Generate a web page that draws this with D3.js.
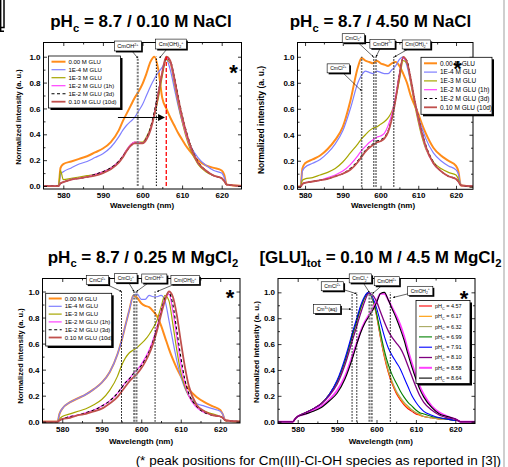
<!DOCTYPE html>
<html>
<head>
<meta charset="utf-8">
<script src="https://cdn.jsdelivr.net/npm/d3@7/dist/d3.min.js"></script>
<style>
  html, body { margin: 0; padding: 0; background: #fff; }
  svg { display: block; font-family: "Liberation Sans", Arial, sans-serif; }
</style>
</head>
<body>
<svg id="fig" width="508" height="467"></svg>
<script>
// shared wavelength grid (nm) for every spectrum
const WL = [574, 578.8, 579.3, 580, 582, 584, 586, 588, 590, 592, 594, 595, 596, 597, 598, 599, 600, 601, 602, 603, 604, 605, 606, 607, 608, 609, 610, 611, 612, 614, 616, 618, 620, 620.6, 621.3, 626];

// pHc 8.7 / 0.10 M NaCl
const NA010_G0   = [0,0,0.14,0.17,0.19,0.21,0.23,0.26,0.29,0.34,0.43,0.5,0.56,0.62,0.68,0.73,0.79,0.87,0.96,1.0,0.9,0.68,0.6,0.53,0.47,0.41,0.36,0.31,0.27,0.2,0.16,0.14,0.12,0.09,0.01,0];
const NA010_G4   = [0,0,0.09,0.11,0.14,0.17,0.19,0.22,0.25,0.3,0.38,0.43,0.47,0.5,0.53,0.58,0.63,0.7,0.77,0.83,0.88,0.92,0.98,0.9,0.76,0.62,0.5,0.4,0.32,0.22,0.16,0.12,0.1,0.07,0.01,0];
const NA010_G3   = [0,0,0.12,0.05,0.06,0.07,0.08,0.09,0.11,0.14,0.19,0.23,0.28,0.32,0.34,0.34,0.34,0.38,0.45,0.55,0.68,0.85,0.98,0.95,0.8,0.64,0.5,0.38,0.29,0.17,0.11,0.08,0.06,0.04,0.01,0];
const NA010_G2H  = [0,0,0.02,0.03,0.05,0.06,0.07,0.09,0.11,0.14,0.19,0.23,0.28,0.32,0.34,0.34,0.33,0.37,0.44,0.56,0.72,0.88,0.99,0.96,0.82,0.66,0.52,0.4,0.31,0.18,0.12,0.08,0.06,0.04,0.01,0];
const NA010_G2D  = [0,0,0.02,0.03,0.05,0.06,0.07,0.09,0.11,0.14,0.19,0.23,0.27,0.31,0.33,0.33,0.33,0.37,0.45,0.58,0.73,0.88,0.99,0.97,0.85,0.7,0.55,0.43,0.33,0.19,0.12,0.08,0.06,0.04,0.01,0];
const NA010_G1   = [0,0,0.02,0.03,0.05,0.06,0.07,0.08,0.1,0.13,0.18,0.22,0.27,0.31,0.33,0.33,0.33,0.36,0.43,0.55,0.71,0.88,1.0,0.97,0.84,0.68,0.54,0.42,0.32,0.18,0.12,0.08,0.06,0.04,0.01,0];

// pHc 8.7 / 4.50 M NaCl
const NA450_G0   = [0,0,0.14,0.18,0.21,0.24,0.29,0.36,0.46,0.66,0.92,0.99,0.97,0.96,0.95,0.97,0.95,0.94,0.93,0.95,0.96,0.93,0.87,0.8,0.7,0.63,0.56,0.48,0.41,0.3,0.24,0.2,0.16,0.12,0.01,0];
const NA450_G4   = [0,0,0.12,0.15,0.18,0.21,0.26,0.33,0.43,0.6,0.8,0.86,0.89,0.88,0.87,0.89,0.88,0.87,0.87,0.9,0.93,0.98,1.0,0.93,0.8,0.66,0.54,0.45,0.37,0.26,0.2,0.16,0.13,0.1,0.01,0];
const NA450_G3   = [0,0,0.05,0.06,0.07,0.09,0.11,0.14,0.19,0.26,0.33,0.37,0.4,0.43,0.45,0.46,0.48,0.5,0.53,0.58,0.68,0.82,0.97,0.95,0.8,0.64,0.5,0.38,0.29,0.19,0.14,0.11,0.09,0.06,0.01,0];
const NA450_G2H  = [0,0,0.02,0.03,0.04,0.05,0.07,0.09,0.12,0.17,0.24,0.28,0.31,0.34,0.36,0.38,0.39,0.41,0.47,0.56,0.7,0.87,0.99,0.96,0.82,0.66,0.52,0.4,0.3,0.18,0.12,0.08,0.06,0.04,0.01,0];
const NA450_G2D  = [0,0,0.02,0.03,0.04,0.05,0.06,0.08,0.1,0.14,0.2,0.24,0.28,0.31,0.33,0.35,0.36,0.38,0.43,0.53,0.68,0.86,0.99,0.97,0.84,0.68,0.54,0.42,0.32,0.19,0.12,0.08,0.06,0.04,0.01,0];
const NA450_G1   = [0,0,0.02,0.03,0.04,0.05,0.06,0.08,0.1,0.13,0.19,0.23,0.27,0.3,0.32,0.34,0.35,0.37,0.42,0.52,0.67,0.85,1.0,0.96,0.83,0.67,0.53,0.41,0.31,0.18,0.12,0.08,0.06,0.04,0.01,0];

// pHc 8.7 / 0.25 M MgCl2
const MG025_G0   = [0,0,0.06,0.1,0.15,0.18,0.21,0.25,0.3,0.38,0.52,0.62,0.74,0.86,0.97,0.95,0.91,0.89,0.88,0.85,0.81,0.74,0.65,0.56,0.48,0.41,0.35,0.29,0.25,0.19,0.15,0.12,0.09,0.06,0.01,0];
const MG025_G4   = [0,0,0.06,0.1,0.15,0.18,0.21,0.25,0.3,0.38,0.52,0.62,0.74,0.86,0.97,0.98,0.94,0.94,0.97,0.96,0.96,0.97,0.93,0.78,0.62,0.47,0.35,0.26,0.2,0.14,0.12,0.1,0.08,0.06,0.01,0];
const MG025_G3   = [0,0,0.02,0.04,0.06,0.08,0.1,0.13,0.17,0.24,0.35,0.43,0.49,0.53,0.55,0.57,0.6,0.63,0.67,0.72,0.78,0.88,0.97,0.93,0.75,0.55,0.38,0.27,0.2,0.12,0.08,0.06,0.04,0.03,0.01,0];
const MG025_G2H  = [0,0,0.01,0.02,0.04,0.05,0.07,0.09,0.12,0.16,0.22,0.26,0.3,0.33,0.37,0.4,0.44,0.49,0.55,0.63,0.73,0.85,0.95,0.98,0.85,0.65,0.45,0.3,0.2,0.11,0.07,0.05,0.04,0.03,0.01,0];
const MG025_G2D  = [0,0,0.01,0.02,0.04,0.05,0.07,0.09,0.12,0.16,0.22,0.26,0.3,0.33,0.37,0.4,0.43,0.48,0.54,0.62,0.72,0.84,0.95,0.99,0.9,0.7,0.5,0.33,0.22,0.12,0.07,0.05,0.04,0.03,0.01,0];
const MG025_G1   = [0,0,0.01,0.02,0.03,0.05,0.06,0.08,0.1,0.14,0.19,0.23,0.27,0.31,0.34,0.37,0.41,0.46,0.52,0.6,0.7,0.82,0.93,1.0,0.96,0.82,0.62,0.43,0.28,0.13,0.08,0.05,0.04,0.03,0.01,0];

// [GLU]tot 0.10 M / 4.5 M MgCl2, pHc series
const PH457 = [0,0,0.02,0.04,0.07,0.1,0.14,0.21,0.31,0.47,0.68,0.78,0.88,0.96,1.0,0.95,0.82,0.65,0.5,0.38,0.29,0.22,0.17,0.13,0.1,0.08,0.06,0.05,0.04,0.03,0.02,0.02,0.01,0.01,0,0];
const PH617 = [0,0,0.02,0.04,0.07,0.1,0.14,0.21,0.31,0.47,0.68,0.78,0.88,0.96,1.0,0.95,0.83,0.66,0.51,0.39,0.3,0.23,0.18,0.14,0.11,0.09,0.07,0.05,0.04,0.03,0.02,0.02,0.01,0.01,0,0];
const PH632 = [0,0,0.02,0.04,0.07,0.1,0.14,0.21,0.31,0.47,0.68,0.78,0.88,0.96,1.0,0.95,0.83,0.66,0.52,0.4,0.31,0.24,0.19,0.15,0.12,0.09,0.07,0.06,0.04,0.03,0.02,0.02,0.01,0.01,0,0];
const PH699 = [0,0,0.02,0.04,0.07,0.1,0.14,0.21,0.31,0.47,0.68,0.78,0.88,0.96,1.0,0.95,0.84,0.69,0.55,0.44,0.36,0.3,0.24,0.19,0.15,0.12,0.09,0.07,0.06,0.04,0.03,0.02,0.01,0.01,0,0];
const PH791 = [0,0,0.02,0.04,0.07,0.1,0.14,0.21,0.32,0.49,0.7,0.8,0.9,0.97,1.0,0.96,0.88,0.77,0.66,0.57,0.51,0.46,0.41,0.34,0.27,0.2,0.15,0.11,0.08,0.05,0.03,0.02,0.01,0.01,0,0];
const PH810 = [0,0,0.02,0.04,0.07,0.1,0.14,0.2,0.29,0.44,0.64,0.74,0.84,0.93,0.99,0.98,0.93,0.85,0.77,0.7,0.65,0.61,0.57,0.51,0.43,0.35,0.27,0.2,0.15,0.09,0.05,0.03,0.02,0.01,0,0];
const PH858 = [0,0,0.02,0.04,0.06,0.09,0.12,0.17,0.24,0.35,0.52,0.61,0.7,0.77,0.82,0.87,0.93,0.99,0.99,0.94,0.88,0.82,0.75,0.66,0.55,0.45,0.35,0.27,0.21,0.12,0.07,0.04,0.02,0.01,0,0];
const PH864 = [0,0,0.02,0.04,0.06,0.08,0.11,0.16,0.22,0.33,0.5,0.6,0.69,0.76,0.81,0.86,0.92,0.99,1.0,0.94,0.87,0.8,0.72,0.63,0.52,0.42,0.33,0.25,0.19,0.11,0.06,0.04,0.02,0.01,0,0];

const GLU_LABELS = ['0.00 M GLU', '1E-4 M GLU', '1E-3 M GLU', '1E-2 M GLU (1h)', '1E-2 M GLU (3d)', '0.10 M GLU (10d)'];
const PH_VALUES = ['4.57', '6.17', '6.32', '6.99', '7.91', '8.10', '8.58', '8.64'];

const X_TICKS = [580, 590, 600, 610, 620];
const X_MINOR = [575, 585, 595, 605, 615, 625];
const Y_TICKS = [0, 0.2, 0.4, 0.6, 0.8, 1.0];
const Y_MINOR = [0.1, 0.3, 0.5, 0.7, 0.9];

// literature peak positions (nm): Cm3+(aq), CmCl2+, CmCl2+, CmOH2+, Cm(OH)2+
const SPECIES_NM = [593.8, 595.0, 598.2, 598.8, 603.5];
const OBSERVED_PEAK = 606.0;

const GLU_STYLES = [
  { color: '#ff8c1a', w: 2 },
  { color: '#7f7fff', w: 1.2 },
  { color: '#a6a600', w: 1.2 },
  { color: '#ff40ff', w: 1.2 },
  { color: '#000', w: 1.1, dash: '3,2.5' },
  { color: '#c0504d', w: 1.8 }
];
const PH_STYLES = [
  { color: '#ff0000', w: 1.1 },
  { color: '#ff9900', w: 1.1 },
  { color: '#a8a860', w: 1.1 },
  { color: '#008000', w: 1.1 },
  { color: '#0000ff', w: 1.1 },
  { color: '#800080', w: 1.3 },
  { color: '#ff40ff', w: 2 },
  { color: '#000', w: 1.1 }
];
const REF_STYLES = {
  gray: { color: '#777', w: 2, dash: '2,1.3' },
  dot: { color: '#000', w: 1, dash: '1.5,1.5' },
  dark: { color: '#444', w: 1.5, dash: '1.5,1.5' },
  red: { color: '#ff0000', w: 1.3, dash: '4,2' }
};

const svg = d3.select('#fig');
const defs = svg.append('defs');
defs.append('marker').attr('id', 'tip').attr('viewBox', '0 0 6 6')
  .attr('refX', 5.5).attr('refY', 3).attr('markerWidth', 3.5).attr('markerHeight', 3.5)
  .attr('orient', 'auto')
  .append('path').attr('d', 'M0,0L6,3L0,6z').attr('fill', '#000');
defs.append('marker').attr('id', 'bigtip').attr('viewBox', '0 0 6 6')
  .attr('refX', 5).attr('refY', 3).attr('markerWidth', 7).attr('markerHeight', 7)
  .attr('markerUnits', 'userSpaceOnUse').attr('orient', 'auto')
  .append('path').attr('d', 'M0,0L6,3L0,6z').attr('fill', '#000');

// text with _{sub} and ^{sup} parts
function rich(sel, str, fs) {
  const parts = str.split(/(_\{[^}]*\}|\^\{[^}]*\})/).filter((s) => s.length);
  let shift = 0;
  parts.forEach((p) => {
    let target = 0, t = p, size = fs;
    if (p.startsWith('_{')) { target = 0.28 * fs; t = p.slice(2, -1); size = fs * 0.66; }
    else if (p.startsWith('^{')) { target = -0.42 * fs; t = p.slice(2, -1); size = fs * 0.66; }
    sel.append('tspan').attr('dy', target - shift).attr('font-size', size).text(t);
    shift = target;
  });
  return sel;
}

function drawPanel(p) {
  const f = p.frame;
  const x = d3.scaleLinear().domain(p.xDom).range([f.x0, f.x1]);
  const y = d3.scaleLinear().domain(p.yDom).range([f.y1, f.y0]);
  const g = svg.append('g');

  rich(g.append('text').attr('x', p.titlePos[0]).attr('y', p.titlePos[1])
    .attr('text-anchor', 'middle').attr('font-size', 17).attr('font-weight', 'bold'), p.title, 17);

  const clipId = 'clip-' + p.id;
  defs.append('clipPath').attr('id', clipId).append('rect')
    .attr('x', f.x0).attr('y', f.y0).attr('width', f.x1 - f.x0).attr('height', f.y1 - f.y0);
  const plot = g.append('g').attr('clip-path', `url(#${clipId})`);

  const line = d3.line().x((d, i) => x(WL[i])).y((d) => y(d)).curve(d3.curveMonotoneX);
  p.order.forEach((i) => {
    const s = p.styles[i];
    plot.append('path').attr('d', line(p.series[i]))
      .attr('fill', 'none').attr('stroke', s.color).attr('stroke-width', s.w)
      .attr('stroke-dasharray', s.dash || null).attr('stroke-linejoin', 'round');
  });

  p.refs.forEach(([nm, key]) => {
    const s = REF_STYLES[key];
    plot.append('line').attr('x1', x(nm)).attr('x2', x(nm)).attr('y1', y(0)).attr('y2', y(1))
      .attr('stroke', s.color).attr('stroke-width', s.w).attr('stroke-dasharray', s.dash);
  });

  // frame + ticks (inward, mirrored)
  g.append('rect').attr('x', f.x0).attr('y', f.y0).attr('width', f.x1 - f.x0).attr('height', f.y1 - f.y0)
    .attr('fill', 'none').attr('stroke', '#000').attr('stroke-width', 1);
  const xMinor = X_MINOR.filter((v) => v > p.xDom[0] && v < p.xDom[1]);
  const axes = [
    [d3.axisBottom(x).tickValues(X_TICKS).tickSize(-3.5).tickFormat(d3.format('d')), `translate(0,${f.y1})`],
    [d3.axisBottom(x).tickValues(xMinor).tickSize(-2).tickFormat(''), `translate(0,${f.y1})`],
    [d3.axisTop(x).tickValues(X_TICKS).tickSize(-3.5).tickFormat(''), `translate(0,${f.y0})`],
    [d3.axisTop(x).tickValues(xMinor).tickSize(-2).tickFormat(''), `translate(0,${f.y0})`],
    [d3.axisLeft(y).tickValues(Y_TICKS).tickSize(-3.5).tickFormat(d3.format('.1f')), `translate(${f.x0},0)`],
    [d3.axisLeft(y).tickValues(Y_MINOR).tickSize(-2).tickFormat(''), `translate(${f.x0},0)`],
    [d3.axisRight(y).tickValues(Y_TICKS).tickSize(-3.5).tickFormat(''), `translate(${f.x1},0)`],
    [d3.axisRight(y).tickValues(Y_MINOR).tickSize(-2).tickFormat(''), `translate(${f.x1},0)`]
  ];
  axes.forEach(([gen, tr]) => {
    const a = g.append('g').attr('transform', tr).call(gen.tickPadding(3));
    a.select('.domain').remove();
    a.selectAll('line').attr('stroke', '#000').attr('stroke-width', 0.8);
    a.selectAll('text').attr('font-size', 8).attr('font-weight', 'bold')
      .attr('font-family', '"Liberation Sans", Arial, sans-serif').attr('fill', '#000');
  });

  g.append('text').attr('x', p.xTitle[0]).attr('y', p.xTitle[1]).attr('text-anchor', 'middle')
    .attr('font-size', 8).attr('font-weight', 'bold').text('Wavelength (nm)');
  g.append('text').attr('transform', `translate(${p.yTitle[0]},${p.yTitle[1]}) rotate(-90)`)
    .attr('text-anchor', 'middle').attr('font-size', p.yTitle[2]).attr('font-weight', 'bold')
    .text('Normalized intensity (a. u.)');

  // legend
  const L = p.legend;
  const lg = g.append('g');
  lg.append('rect').attr('x', L.x + 2).attr('y', L.y + 2).attr('width', L.w).attr('height', L.h).attr('fill', '#000');
  lg.append('rect').attr('x', L.x).attr('y', L.y).attr('width', L.w).attr('height', L.h)
    .attr('fill', '#fff').attr('stroke', '#000').attr('stroke-width', 0.8);
  p.labels.forEach((lab, i) => {
    const s = p.styles[i];
    const yy = L.y + L.first + i * L.step;
    lg.append('line').attr('x1', L.x + 3).attr('x2', L.x + 3 + L.len).attr('y1', yy).attr('y2', yy)
      .attr('stroke', s.color).attr('stroke-width', s.w).attr('stroke-dasharray', s.dash || null);
    rich(lg.append('text').attr('x', L.x + 6 + L.len).attr('y', yy + L.fs * 0.36).attr('font-size', L.fs), lab, L.fs);
  });

  // species call-outs
  p.notes.forEach(([lab, bx, bv, tx, tv]) => {
    const cx = x(bx), cy = y(bv);
    g.append('line').attr('x1', cx).attr('y1', cy).attr('x2', x(tx)).attr('y2', y(tv))
      .attr('stroke', '#000').attr('stroke-width', 0.6).attr('marker-end', 'url(#tip)');
    const t = g.append('text').attr('x', cx).attr('y', cy + p.noteFs * 0.36)
      .attr('text-anchor', 'middle').attr('font-size', p.noteFs);
    rich(t, lab, p.noteFs);
    const bb = t.node().getBBox();
    const h = p.noteFs * 1.8;
    g.insert('rect', () => t.node()).attr('x', bb.x - 1.5).attr('y', cy - h / 2 + 1.5)
      .attr('width', bb.width + 6).attr('height', h).attr('fill', '#000');
    g.insert('rect', () => t.node()).attr('x', bb.x - 3).attr('y', cy - h / 2)
      .attr('width', bb.width + 6).attr('height', h).attr('fill', '#fff').attr('stroke', '#000').attr('stroke-width', 0.6);
  });

  if (p.arrow) {
    g.append('line').attr('x1', x(p.arrow[0])).attr('x2', x(p.arrow[1]))
      .attr('y1', y(p.arrow[2])).attr('y2', y(p.arrow[2]))
      .attr('stroke', '#000').attr('stroke-width', 1).attr('marker-end', 'url(#bigtip)');
  }

  g.append('text').attr('x', x(p.star[0])).attr('y', y(p.star[1]) + 12)
    .attr('text-anchor', 'middle').attr('font-size', 22).attr('font-weight', 'bold').text('*');
}

const PANELS = [
  {
    id: 'nacl010', title: 'pH_{c} = 8.7 / 0.10 M NaCl', titlePos: [141, 27],
    frame: { x0: 43.5, x1: 241.5, y0: 42.5, y1: 189 }, xDom: [575, 625], yDom: [-0.023, 1.11],
    series: [NA010_G0, NA010_G4, NA010_G3, NA010_G2H, NA010_G2D, NA010_G1],
    styles: GLU_STYLES, labels: GLU_LABELS, order: [0, 1, 2, 3, 4, 5],
    xTitle: [142, 207.5], yTitle: [20.5, 117, 7.5],
    legend: { x: 48.5, y: 56, w: 72, h: 52, first: 5.7, step: 8, len: 14, fs: 6 },
    refs: [[SPECIES_NM[3], 'gray'], [SPECIES_NM[4], 'dot'], [OBSERVED_PEAK, 'red']],
    noteFs: 5.5,
    notes: [['CmOH^{2+}', 596.3, 1.083, 598.8, 0.99], ['Cm(OH)_{2}^{+}', 607.2, 1.098, 604.3, 0.99]],
    arrow: [593.8, 605.4, 0.53], star: [623, 0.91]
  },
  {
    id: 'nacl450', title: 'pH_{c} = 8.7 / 4.50 M NaCl', titlePos: [380.5, 27],
    frame: { x0: 297.5, x1: 473, y0: 42.5, y1: 189.3 }, xDom: [578, 624.5], yDom: [-0.02, 1.11],
    series: [NA450_G0, NA450_G4, NA450_G3, NA450_G2H, NA450_G2D, NA450_G1],
    styles: GLU_STYLES, labels: GLU_LABELS, order: [0, 1, 2, 3, 4, 5],
    xTitle: [383, 208], yTitle: [264, 120, 8.5],
    legend: { x: 421, y: 57.3, w: 71, h: 57, first: 6, step: 8.8, len: 13, fs: 6.5 },
    refs: [[SPECIES_NM[1], 'dark'], [SPECIES_NM[2], 'dark'], [SPECIES_NM[3], 'dark'], [SPECIES_NM[4], 'dark']],
    noteFs: 5,
    notes: [['CmCl_{2}^{+}', 592.8, 1.143, 598.1, 1.0], ['CmOH^{2+}', 600.5, 1.1, 598.8, 1.0],
            ['Cm(OH)_{2}^{+}', 609.5, 1.095, 603.7, 1.0], ['CmCl^{2+}', 588.8, 0.911, 594.9, 0.74]],
    star: [620.4, 0.945]
  },
  {
    id: 'mg025', title: 'pH_{c} = 8.7 / 0.25 M MgCl_{2}', titlePos: [143, 262.5],
    frame: { x0: 42.5, x1: 240, y0: 278.5, y1: 423 }, xDom: [575, 625], yDom: [-0.01, 1.1],
    series: [MG025_G0, MG025_G4, MG025_G3, MG025_G2H, MG025_G2D, MG025_G1],
    styles: GLU_STYLES, labels: GLU_LABELS, order: [0, 1, 2, 3, 4, 5],
    xTitle: [141, 444], yTitle: [23, 356, 7.5],
    legend: { x: 45.7, y: 293.3, w: 66, h: 52.7, first: 5.2, step: 7.8, len: 13, fs: 6 },
    refs: [[SPECIES_NM[1], 'dot'], [SPECIES_NM[2], 'gray'], [SPECIES_NM[3], 'gray'], [SPECIES_NM[4], 'dot']],
    noteFs: 5,
    notes: [['CmCl^{2+}', 588.9, 1.088, 595, 1.0], ['CmCl_{2}^{+}', 596.1, 1.103, 598.2, 1.0],
            ['CmOH^{2+}', 603.3, 1.1, 598.8, 1.0], ['Cm(OH)_{2}^{+}', 611.1, 1.09, 604, 1.0]],
    star: [622.5, 0.988]
  },
  {
    id: 'mg45', title: '[GLU]_{tot} = 0.10 M / 4.5 M MgCl_{2}', titlePos: [380.5, 262.5],
    frame: { x0: 278, x1: 475, y0: 278.5, y1: 423.5 }, xDom: [575, 625], yDom: [-0.014, 1.107],
    series: [PH457, PH617, PH632, PH699, PH791, PH810, PH858, PH864],
    styles: PH_STYLES, labels: PH_VALUES.map((v) => 'pH_{C} = ' + v), order: [0, 1, 2, 3, 4, 6, 7, 5],
    xTitle: [380.8, 444], yTitle: [259, 352, 8],
    legend: { x: 416, y: 300.5, w: 54, h: 83, first: 5.5, step: 10.3, len: 13, fs: 5.5 },
    refs: [[SPECIES_NM[0], 'dot'], [SPECIES_NM[1], 'dot'], [SPECIES_NM[2], 'gray'], [SPECIES_NM[3], 'gray'], [SPECIES_NM[4], 'dot']],
    noteFs: 5,
    notes: [['Cm^{3+}(aq)', 587.4, 0.872, 593.5, 0.87], ['CmCl^{2+}', 588.8, 1.047, 594.9, 0.99],
            ['CmCl_{2}^{+}', 595.9, 1.108, 598.2, 1.0], ['CmOH^{2+}', 602.6, 1.086, 599, 0.99],
            ['CmOH_{2}^{+}', 611.1, 1.012, 604.2, 0.96]],
    star: [622.2, 0.99]
  }
];

PANELS.forEach(drawPanel);

// footnote
svg.append('text').attr('x', 501).attr('y', 465).attr('text-anchor', 'end').attr('font-size', 13.5)
  .text('(* peak positions for Cm(III)-Cl-OH species as reported in [3])');

// page edge + cropped box in the corner
svg.append('rect').attr('x', 503).attr('y', 0).attr('width', 2).attr('height', 467).attr('fill', '#cfcfcf');
svg.append('rect').attr('x', -10).attr('y', -10).attr('width', 14).attr('height', 37.5)
  .attr('fill', 'none').attr('stroke', '#000').attr('stroke-width', 1.5);
svg.append('path').attr('d', 'M0.7,0V31.3H4').attr('fill', 'none').attr('stroke', '#000').attr('stroke-width', 1.4);
</script>
</body>
</html>
